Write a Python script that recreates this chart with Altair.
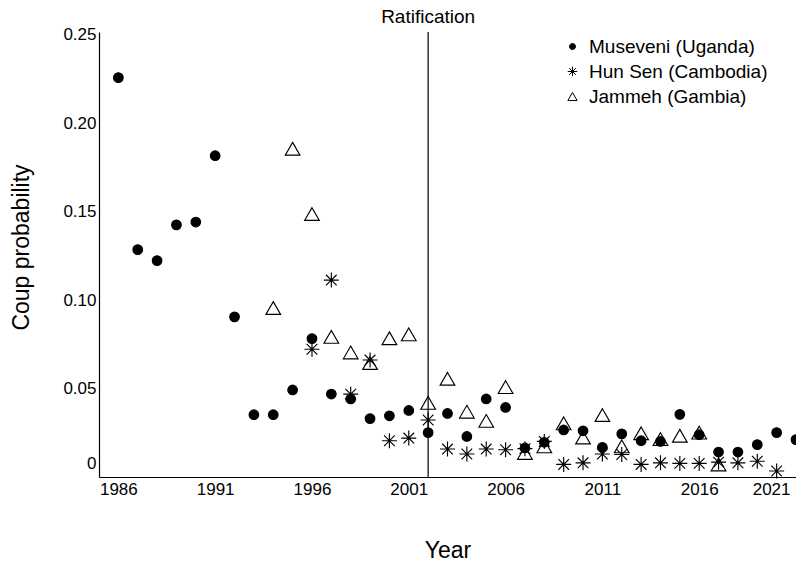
import altair as alt
import pandas as pd

names = ["Museveni (Uganda)", "Hun Sen (Cambodia)", "Jammeh (Gambia)"]

museveni_years = list(range(1986, 2022))
museveni_vals = [0.2257, 0.1285, 0.1223, 0.1425, 0.1441, 0.1816, 0.0905, 0.0352, 0.0352,
                 0.0492, 0.0782, 0.0469, 0.0441, 0.0330, 0.0346, 0.0376, 0.0251, 0.0359,
                 0.0229, 0.0441, 0.0393, 0.0164, 0.0196, 0.0266, 0.0261, 0.0168, 0.0244,
                 0.0205, 0.0201, 0.0354, 0.0239, 0.0141, 0.0141, 0.0183, 0.0251, 0.0211]

hunsen_years = list(range(1996, 2021))
hunsen_vals = [0.0722, 0.1113, 0.0468, 0.0661, 0.0205, 0.0220, 0.0322, 0.0158, 0.0130,
               0.0158, 0.0154, 0.0160, 0.0201, 0.0071, 0.0080, 0.0130, 0.0127, 0.0071,
               0.0080, 0.0077, 0.0077, 0.0084, 0.0080, 0.0089, 0.0034]

jammeh_years = list(range(1994, 2018))
jammeh_vals = [0.0955, 0.1855, 0.1486, 0.0792, 0.0704, 0.0644, 0.0784, 0.0806, 0.0419,
               0.0555, 0.0369, 0.0317, 0.0508, 0.0136, 0.0173, 0.0303, 0.0223, 0.0350,
               0.0173, 0.0247, 0.0214, 0.0233, 0.0251, 0.0071]

ratification_year = [2002]
ratification_label = ["Ratification"]

x_ticks = [1986, 1991, 1996, 2001, 2006, 2011, 2016, 2021]
y_ticks = [0, 0.05, 0.10, 0.15, 0.20, 0.25]

rows = []
for nm, yrs, vals in [(names[0], museveni_years, museveni_vals),
                      (names[1], hunsen_years, hunsen_vals),
                      (names[2], jammeh_years, jammeh_vals)]:
    for yr, v in zip(yrs, vals):
        rows.append({"series": nm, "year": yr, "prob": v})
df = pd.DataFrame(rows)

rat_df = pd.DataFrame({"year": ratification_year, "label": ratification_label})

FONT = "Liberation Sans"
# symbol paths in unit coordinates (scaled by sqrt(size)/2)
dot = "M-0.64,0A0.64,0.64 0 1,0 0.64,0A0.64,0.64 0 1,0 -0.64,0Z"
asterisk = "M0,-1V1M-1,0H1M-0.71,-0.71L0.71,0.71M-0.71,0.71L0.71,-0.71"
triangle = "M0,-0.85L0.98,0.85L-0.98,0.85Z"

xscale = alt.Scale(domain=[1985, 2021], nice=False, zero=False)
yscale = alt.Scale(domain=[0, 0.2515], nice=False)

legend = alt.Legend(title=None, orient="none", legendX=464, legendY=5, padding=0,
                    labelFontSize=19, labelFont=FONT, labelColor="black", labelLimit=400,
                    symbolSize=90, symbolStrokeColor="black", symbolStrokeWidth=1,
                    rowPadding=5, labelOffset=7)

points = alt.Chart(df).mark_point(strokeWidth=1.15, opacity=1,
                                  fillOpacity=1, size=225).encode(
    x=alt.X("year:Q", scale=xscale,
            axis=alt.Axis(values=x_ticks, format="d", title="Year", labelFlush=True,
                          labelFlushOffset=-6, labelPadding=4, titlePadding=42)),
    y=alt.Y("prob:Q", scale=yscale,
            axis=alt.Axis(values=y_ticks, title="Coup probability",
                          labelExpr="datum.value == 0 ? '0' : format(datum.value, '.2f')",
                          labelOffset={"condition": {"test": "datum.value == 0", "value": -14}, "value": 0},
                          labelPadding=3, titlePadding=29, titleY=215)),
    shape=alt.Shape("series:N", scale=alt.Scale(domain=names, range=[dot, asterisk, triangle]),
                    legend=legend),
    fill=alt.Fill("series:N", scale=alt.Scale(domain=names, range=["black", "transparent", "transparent"]),
                  legend=legend),
    stroke=alt.Stroke("series:N", scale=alt.Scale(domain=names, range=["black", "black", "black"]),
                      legend=legend),
)

rule = alt.Chart(rat_df).mark_rule(color="black", strokeWidth=1.2).encode(
    x=alt.X("year:Q", scale=xscale)
)

text = alt.Chart(rat_df).mark_text(font=FONT, fontSize=19, color="black", baseline="middle").encode(
    x=alt.X("year:Q", scale=xscale),
    y=alt.value(-15),
    text="label:N",
)

chart = alt.layer(rule, points, text).properties(
    width=697, height=445,
    autosize=alt.AutoSizeParams(type="none"),
    padding={"left": 99, "top": 32, "right": 0, "bottom": 94},
    background="white",
).configure_view(stroke=None).configure_axis(
    grid=False, ticks=False, domainColor="black", domainWidth=1.2,
    labelFont=FONT, labelFontSize=17, labelColor="black",
    titleFont=FONT, titleFontSize=23, titleFontWeight="normal", titleColor="black",
)

chart.save("out.html", embed_options={"renderer": "svg", "actions": False})
